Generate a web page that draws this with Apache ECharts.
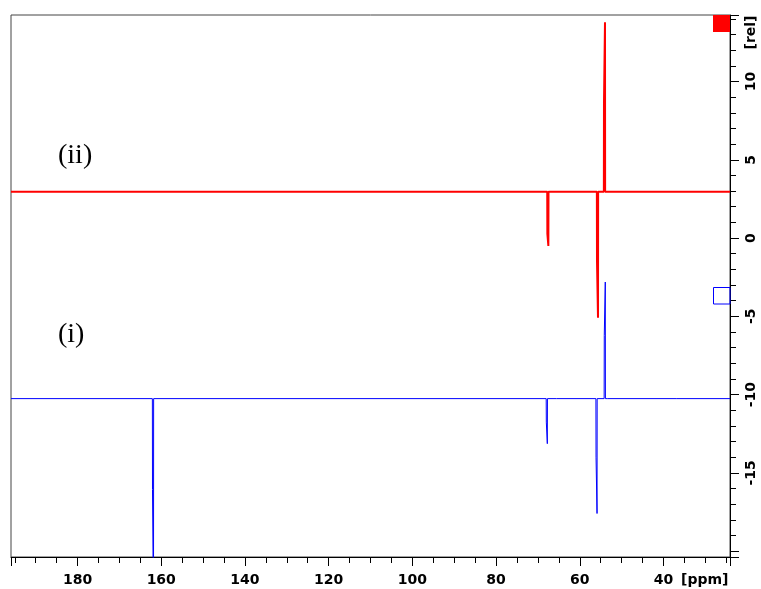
<!DOCTYPE html>
<html>
<head>
<meta charset="utf-8">
<script src="https://cdn.jsdelivr.net/npm/echarts@6/dist/echarts.min.js"></script>
<style>
  html, body { margin: 0; padding: 0; background: #fff; }
  #chart { width: 761px; height: 589px; }
</style>
</head>
<body>
<div id="chart"></div>
<script>
// Chemical shift window (ppm, decreasing to the right) and intensity window (rel)
const ppmWindow = [24.1, 195.9];
const relWindow = [-20.38, 14.25];

const xTickLabels = [180, 160, 140, 120, 100, 80, 60, 40];
const yTickLabels = [10, 5, 0, -5, -10, -15];

// Trace (ii): baseline level, peaks (shift, shoulder point, apex) and baseline ripple
const baseII = 2.95;
const peakPpmII = [67.5, 55.64, 53.97];
const peakShoulderII = [0.28, -1.47, 8.59];
const peakApexII = [-0.51, -5.09, 13.78];
const ripplePpmII = [194.0, 192.0, 189.5, 186.6, 183.4, 180.5, 177.8, 174.6, 172.2, 170.0,
                     167.0, 165.2, 163.1, 159.5, 156.8, 153.9, 151.1, 148.9, 146.4, 144.3,
                     141.0, 138.7, 136.4, 135.6, 133.2, 131.0, 128.9, 126.8, 124.4, 122.3,
                     120.5, 119.7, 117.2, 114.9, 111.7, 109.1, 106.9, 105.3, 102.6, 100.0,
                     98.4, 96.6, 93.8, 91.0, 89.4, 87.1, 85.0, 82.3, 79.0, 78.3,
                     76.1, 74.3, 71.2, 65.5, 62.8, 60.1, 51.8, 50.4, 48.0, 46.1,
                     44.0, 41.5, 38.8, 36.2, 33.0, 30.4, 27.0, 25.4];
const rippleValII = [3.04, 2.86, 3.05, 2.85, 3.05, 2.87, 3.04, 3.05, 2.86, 2.86,
                     3.05, 2.87, 2.85, 2.86, 3.04, 3.05, 2.85, 3.04, 2.86, 3.05,
                     2.87, 3.04, 3.05, 2.85, 2.87, 3.05, 2.86, 2.86, 3.05, 2.87,
                     3.04, 2.85, 3.04, 3.05, 2.85, 3.04, 3.05, 2.86, 2.87, 2.86,
                     3.04, 3.05, 2.87, 2.85, 3.05, 3.04, 2.86, 2.87, 3.05, 2.85,
                     3.04, 3.05, 2.87, 2.86, 3.04, 2.87, 3.05, 2.85, 3.05, 2.87,
                     2.86, 3.04, 3.05, 2.87, 3.04, 2.86, 2.85, 3.04];

// Trace (i)
const baseI = -10.26;
const peakPpmI = [161.85, 67.75, 55.87, 53.9];
const peakShoulderI = [-16.06, -11.76, -14.0, -6.22];
const peakApexI = [-24.0, -13.14, -17.6, -2.81];
const ripplePpmI = [65.5, 53.2, 36.7];
const rippleValI = [-10.17, -10.34, -10.18];

// Assemble a trace as [ppm, intensity] pairs ordered from high to low shift.
// A peak is the apex point plus one shoulder point a digital step to its left.
function buildTrace(base, peakPpm, shoulder, apex, ripplePpm, rippleVal) {
  const step = 0.24;
  const edge = 0.03;
  const features = [];
  peakPpm.forEach((p, i) => features.push({
    p,
    pts: [[p + step + edge, base], [p + step, shoulder[i]], [p, apex[i]], [p - edge, base]]
  }));
  ripplePpm.forEach((p, i) => features.push({
    p,
    pts: [[p + 0.1, base], [p, rippleVal[i]], [p - 0.1, base]]
  }));
  features.sort((a, b) => b.p - a.p);
  const pts = [[ppmWindow[1], base]];
  features.forEach(f => pts.push(...f.pts));
  pts.push([ppmWindow[0], base]);
  return pts;
}

const traceII = buildTrace(baseII, peakPpmII, peakShoulderII, peakApexII, ripplePpmII, rippleValII);
const traceI = buildTrace(baseI, peakPpmI, peakShoulderI, peakApexI, ripplePpmI, rippleValI);

const labelFont = { fontFamily: 'DejaVu Sans', fontSize: 14, fontWeight: 'bold', color: '#000' };
const unitFont = 'bold 14px "DejaVu Sans"';
const xLabelMargin = 16;

const chart = echarts.init(document.getElementById('chart'), null, { renderer: 'canvas' });
chart.setOption({
  animation: false,
  backgroundColor: '#fff',
  grid: {
    left: 11, right: 31, top: 15, bottom: 32,
    show: true, borderColor: '#444', borderWidth: 1
  },
  xAxis: {
    type: 'value',
    inverse: true,
    min: ppmWindow[0],
    max: ppmWindow[1],
    splitNumber: 9,
    axisLine: { show: true, onZero: false, lineStyle: { color: '#000', width: 1 } },
    axisTick: { show: true, length: 9, lineStyle: { color: '#000' } },
    minorTick: { show: true, splitNumber: 4, length: 6, lineStyle: { color: '#000' } },
    splitLine: { show: false },
    axisLabel: Object.assign({
      margin: xLabelMargin,
      formatter: v => (xTickLabels.includes(v) ? String(v) : '')
    }, labelFont)
  },
  yAxis: {
    type: 'value',
    position: 'right',
    min: relWindow[0],
    max: relWindow[1],
    splitNumber: 7,
    axisLine: { show: true, onZero: false, lineStyle: { color: '#000', width: 1 } },
    axisTick: { show: true, length: 9, lineStyle: { color: '#000' } },
    minorTick: { show: true, splitNumber: 5, length: 6, lineStyle: { color: '#000' } },
    splitLine: { show: false },
    axisLabel: Object.assign({
      rotate: 90,
      margin: 14,
      formatter: v => (yTickLabels.includes(v) ? String(v) : '')
    }, labelFont)
  },
  series: [
    {
      name: '(i)',
      type: 'line',
      data: traceI,
      symbol: 'none',
      sampling: null,
      clip: true,
      lineStyle: { color: '#0000ff', width: 1, join: 'bevel' },
      z: 2
    },
    {
      name: '(ii)',
      type: 'line',
      data: traceII,
      symbol: 'none',
      sampling: null,
      clip: true,
      lineStyle: { color: '#ff0000', width: 2, join: 'bevel' },
      z: 3
    }
  ],
  graphic: [
    { type: 'text', x: 58, y: 156, style: { text: '(ii)', font: '28px "Liberation Serif"', fill: '#000', verticalAlign: 'middle' } },
    { type: 'text', x: 58, y: 335, style: { text: '(i)', font: '28px "Liberation Serif"', fill: '#000', verticalAlign: 'middle' } },
    { type: 'text', x: 681, y: 557 + xLabelMargin, style: { text: '[ppm]', font: unitFont, fill: '#000', verticalAlign: 'top' } },
    { type: 'text', x: 744, y: 32.5, rotation: Math.PI / 2, style: { text: '[rel]', font: unitFont, fill: '#000', align: 'center', verticalAlign: 'top' } },
    { type: 'rect', z: 10, shape: { x: 713, y: 15, width: 17, height: 17 }, style: { fill: '#ff0000' } },
    { type: 'rect', z: 10, shape: { x: 713.5, y: 287.5, width: 16.5, height: 16.5 }, style: { fill: 'rgba(0,0,0,0)', stroke: '#0000ff', lineWidth: 1 } }
  ]
});
</script>
</body>
</html>
